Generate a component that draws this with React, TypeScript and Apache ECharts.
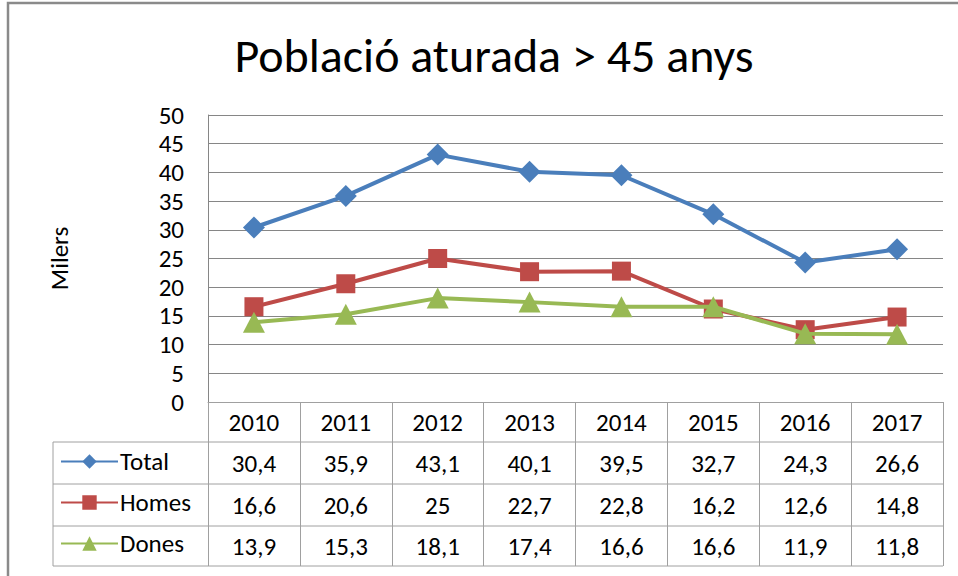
import React, { useEffect, useRef } from "react";
import * as echarts from "echarts";

const years = ["2010", "2011", "2012", "2013", "2014", "2015", "2016", "2017"];
const totalValues = [30.4, 35.9, 43.1, 40.1, 39.5, 32.7, 24.3, 26.6];
const homesValues = [16.6, 20.6, 25, 22.7, 22.8, 16.2, 12.6, 14.8];
const donesValues = [13.9, 15.3, 18.1, 17.4, 16.6, 16.6, 11.9, 11.8];
const seriesNames = ["Total", "Homes", "Dones"];
const titleText = "Població aturada > 45 anys";
const yAxisName = "Milers";
const yMin = 0;
const yMax = 50;
const yInterval = 5;

const FONT = "Carlito, Calibri, Lato, sans-serif";
const FS = 25;
const COLORS = ["#4A7EBB", "#BE4B48", "#98B954"];
const GRID_LEFT = 208;
const GRID_RIGHT_X = 943;
const GRID_TOP = 115;
const GRID_BOTTOM_Y = 402;
const ROW_LINES = [442, 484, 526, 566];
const TABLE_LEFT = 53;
const TABLE_LINE = "#a0a0a0";

const fmt = (v: number) => String(v).replace(".", ",");

export default function App() {
  const ref = useRef<HTMLDivElement>(null);
  useEffect(() => {
    if (!ref.current) return;
    const chart = echarts.init(ref.current, null, { renderer: "svg" });
    const allSeries = [totalValues, homesValues, donesValues];
    const symbols = ["diamond", "rect", "triangle"];
    const symbolSizes: any[] = [[22, 22], [19, 19], [22, 21]];
    const option: any = {
      animation: false,
      backgroundColor: "#ffffff",
      textStyle: { fontFamily: FONT },
      title: {
        text: titleText,
        left: 489,
        top: 26,
        textAlign: "center",
        textStyle: { fontFamily: FONT, fontSize: 48, fontWeight: "normal", color: "#000" },
      },
      grid: {
        left: GRID_LEFT,
        right: 958 - GRID_RIGHT_X,
        top: GRID_TOP,
        bottom: 576 - GRID_BOTTOM_Y,
      },
      xAxis: {
        type: "category",
        data: years,
        boundaryGap: true,
        axisLine: { show: true, lineStyle: { color: TABLE_LINE, width: 1 } },
        axisTick: {
          show: true,
          interval: 0,
          length: ROW_LINES[ROW_LINES.length - 1] - GRID_BOTTOM_Y,
          lineStyle: { color: TABLE_LINE, width: 1 },
        },
        axisLabel: { fontFamily: FONT, fontSize: FS, color: "#000", margin: 8, interval: 0 },
      },
      yAxis: {
        type: "value",
        min: yMin,
        max: yMax,
        interval: yInterval,
        name: yAxisName,
        nameLocation: "middle",
        nameRotate: 90,
        nameGap: 136,
        nameTextStyle: { fontFamily: FONT, fontSize: FS, color: "#000" },
        axisLine: { show: true, lineStyle: { color: "#868686", width: 1 } },
        axisTick: { show: false },
        axisLabel: { fontFamily: FONT, fontSize: FS, color: "#000", margin: 24 },
        splitLine: { show: true, lineStyle: { color: "#868686", width: 1 } },
      },
      legend: {
        show: true,
        orient: "vertical",
        left: 60,
        top: 449,
        padding: 0,
        itemWidth: 57,
        itemHeight: 18,
        itemGap: 16,
        textStyle: { fontFamily: FONT, fontSize: FS, color: "#000", padding: [0, 0, 0, -3] },
        data: seriesNames,
      },
      series: seriesNames.map((name, i) => ({
        name,
        type: "line",
        data: allSeries[i],
        symbol: symbols[i],
        symbolSize: symbolSizes[i],
        itemStyle: { color: COLORS[i] },
        lineStyle: { color: COLORS[i], width: 4 },
        z: 2 + i,
      })),
    };
    chart.setOption(option);

    const graphics: any[] = [];
    graphics.push({
      type: "rect",
      shape: { x: 8, y: 3, width: 1000, height: 700 },
      style: { fill: "none", stroke: "#8a8a8a", lineWidth: 2.5 },
      silent: true,
    });
    ROW_LINES.forEach((y) => {
      graphics.push({
        type: "line",
        shape: { x1: TABLE_LEFT, y1: y, x2: GRID_RIGHT_X, y2: y },
        style: { stroke: TABLE_LINE, lineWidth: 1 },
        silent: true,
      });
    });
    graphics.push({
      type: "line",
      shape: { x1: TABLE_LEFT, y1: ROW_LINES[0], x2: TABLE_LEFT, y2: ROW_LINES[ROW_LINES.length - 1] },
      style: { stroke: TABLE_LINE, lineWidth: 1 },
      silent: true,
    });
    allSeries.forEach((vals, r) => {
      const yc = (ROW_LINES[r] + ROW_LINES[r + 1]) / 2;
      vals.forEach((v, c) => {
        const px = chart.convertToPixel({ xAxisIndex: 0 }, c) as number;
        graphics.push({
          type: "text",
          x: px,
          y: yc,
          style: {
            text: fmt(v),
            fontFamily: FONT,
            fontSize: FS,
            fill: "#000",
            align: "center",
            verticalAlign: "middle",
          },
          silent: true,
        });
      });
    });
    chart.setOption({ graphic: { elements: graphics } });
    return () => chart.dispose();
  }, []);
  return (
    <div
      ref={ref}
      style={{ position: "fixed", left: 0, top: 0, width: 958, height: 576, background: "#fff" }}
    />
  );
}
